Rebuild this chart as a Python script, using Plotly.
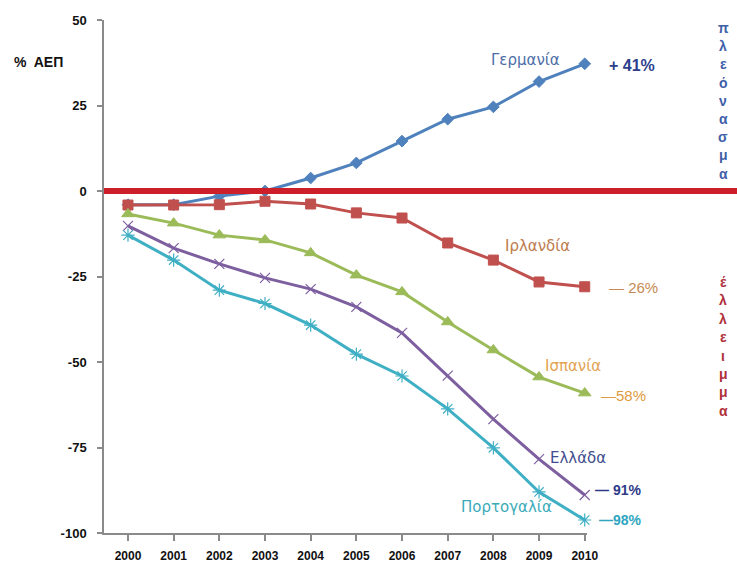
import plotly.graph_objects as go

years = [2000, 2001, 2002, 2003, 2004, 2005, 2006, 2007, 2008, 2009, 2010]
germany = [-4.0, -4.0, -1.5, 0.0, 3.8, 8.2, 14.6, 21.0, 24.6, 32.0, 37.2]
ireland = [-4.1, -4.1, -4.0, -3.0, -3.8, -6.4, -7.9, -15.2, -20.2, -26.6, -28.0]
spain = [-6.7, -9.4, -12.9, -14.3, -18.1, -24.6, -29.5, -38.3, -46.5, -54.4, -59.1]
greece = [-10.2, -16.7, -21.3, -25.4, -28.7, -33.9, -41.5, -54.0, -66.7, -78.4, -88.9]
portugal = [-12.9, -20.2, -29.0, -32.9, -39.2, -47.7, -54.1, -63.7, -75.1, -88.0, -96.2]
y_ticks = [-100, -75, -50, -25, 0, 25, 50]

names = ["Γερμανία", "Ιρλανδία", "Ισπανία", "Ελλάδα", "Πορτογαλία"]
end_labels = ["+ 41%", "— 26%", "—58%", "— 91%", "—98%"]

L, R, T, B = 104, 150, 20, 35
W, H = 737, 568
PW, PH = W - L - R, H - T - B


def px(x):
    return (x - L) / PW


def py(y):
    return (H - B - y) / PH


fig = go.Figure()
series = [
    (germany, "#4F81BD", "diamond", 9, 1),
    (ireland, "#C0504D", "square", 10, 1),
    (spain, "#9BBB59", "triangle-up", 11, 1),
    (greece, "#7D5FA0", "x-thin-open", 10, 1.2),
    (portugal, "#3FAFC4", "asterisk-open", 11, 1.2),
]
for vals, col, sym, sz, lw in series:
    fig.add_trace(go.Scatter(
        x=years, y=vals, mode="lines+markers",
        line=dict(color=col, width=3),
        marker=dict(symbol=sym, size=sz, color=col, line=dict(color=col, width=lw)),
        showlegend=False, cliponaxis=False,
    ))

# thick zero line extending to the right edge
fig.add_shape(type="line", xref="paper", yref="y", x0=0, x1=px(W), y0=0, y1=0,
              line=dict(color="#CC1F2A", width=6), layer="above")

ann = []
# (text, x px, y px, colour, weight, size, family)
label_specs = [
    (names[0], 525, 60, "#4E6EA8", "normal", 15, "DejaVu Sans"),
    (end_labels[0], 632, 65, "#2C3E8C", "bold", 16, "Liberation Sans"),
    (names[1], 537, 246, "#BD7B4C", "normal", 15, "DejaVu Sans"),
    (end_labels[1], 633, 287, "#C58A55", "normal", 15, "Liberation Sans"),
    (names[2], 573, 366, "#E3A352", "normal", 15, "DejaVu Sans"),
    (end_labels[2], 623, 395, "#E09A40", "normal", 15, "Liberation Sans"),
    (names[3], 578, 458, "#414D8E", "normal", 15, "DejaVu Sans"),
    (end_labels[3], 618, 490, "#2E3A87", "bold", 14, "Liberation Sans"),
    (names[4], 506, 507, "#3AAAB8", "normal", 15, "DejaVu Sans"),
    (end_labels[4], 620, 520, "#2FA5C0", "bold", 14, "Liberation Sans"),
]
for txt, x, y, col, wt, sz, fam in label_specs:
    ann.append(dict(text=txt, x=px(x), y=py(y), xref="paper", yref="paper",
                    showarrow=False, xanchor="center", yanchor="middle",
                    font=dict(size=sz, color=col, family=fam, weight=wt)))

for i, ch in enumerate("πλεόνασμα"):
    ann.append(dict(text=ch, x=px(723), y=py(28 + i * 18.2), xref="paper", yref="paper",
                    showarrow=False, xanchor="center", yanchor="middle",
                    font=dict(size=14, color="#3F5FA8", family="Liberation Sans", weight=600)))
for i, ch in enumerate("έλλειμμα"):
    ann.append(dict(text=ch, x=px(723), y=py(282 + i * 18.4), xref="paper", yref="paper",
                    showarrow=False, xanchor="center", yanchor="middle",
                    font=dict(size=14, color="#B0303A", family="Liberation Sans", weight=600)))

ann.append(dict(text="%  ΑΕΠ", x=px(38), y=py(62), xref="paper", yref="paper",
                showarrow=False, xanchor="center", yanchor="middle",
                font=dict(size=14, color="#111", family="Liberation Sans", weight="bold")))

fig.update_layout(
    width=W, height=H, margin=dict(l=L, r=R, t=T, b=B, autoexpand=False),
    paper_bgcolor="white", plot_bgcolor="white",
    annotations=ann,
    font=dict(family="Liberation Sans"),
)
fig.update_xaxes(
    range=[1999.475, 2010.05], tickvals=years, ticktext=[str(y) for y in years],
    showgrid=False, zeroline=False, showline=True, linecolor="#8a8a8a", linewidth=1.5,
    ticks="outside", ticklen=6, tickcolor="#8a8a8a", tickwidth=1.5, automargin=False,
    tickfont=dict(size=12, color="#111", weight="bold"), ticklabelstandoff=5,
)
fig.update_yaxes(
    range=[-100, 50], tickvals=y_ticks, ticktext=[str(v) for v in y_ticks],
    showgrid=False, zeroline=False, showline=True, linecolor="#8a8a8a", linewidth=1.5,
    ticks="outside", ticklen=5, tickcolor="#8a8a8a", tickwidth=1.5, automargin=False,
    tickfont=dict(size=13, color="#111", weight="bold"), ticklabelstandoff=8,
)
fig.write_html("out.html")
